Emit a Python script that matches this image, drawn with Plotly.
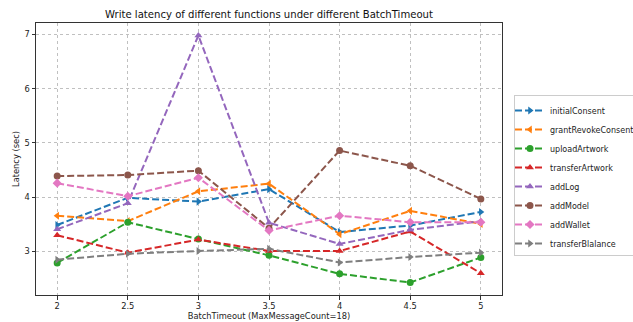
import plotly.graph_objects as go

x_vals = [2, 2.5, 3, 3.5, 4, 4.5, 5]

initialConsent = [3.49, 3.99, 3.92, 4.15, 3.36, 3.48, 3.73]
grantRevokeConsent = [3.66, 3.56, 4.11, 4.25, 3.32, 3.75, 3.51]
uploadArtwork = [2.79, 3.54, 3.23, 2.93, 2.59, 2.43, 2.89]
transferArtwork = [3.30, 2.98, 3.22, 3.01, 3.01, 3.37, 2.60]
addLog = [3.41, 3.89, 6.98, 3.53, 3.14, 3.40, 3.56]
addModel = [4.39, 4.41, 4.49, 3.43, 4.86, 4.58, 3.97]
addWallet = [4.26, 4.02, 4.36, 3.39, 3.66, 3.54, 3.54]
transferBlalance = [2.85, 2.96, 3.01, 3.05, 2.80, 2.90, 2.98]

series_names = ["initialConsent", "grantRevokeConsent", "uploadArtwork", "transferArtwork",
                "addLog", "addModel", "addWallet", "transferBlalance"]
series_values = [initialConsent, grantRevokeConsent, uploadArtwork, transferArtwork,
                 addLog, addModel, addWallet, transferBlalance]
colors = ["#1f77b4", "#ff7f0e", "#2ca02c", "#d62728", "#9467bd", "#8c564b", "#e377c2", "#7f7f7f"]
symbols = ["triangle-right", "triangle-left", "circle", "triangle-up", "triangle-up",
           "circle", "diamond", "triangle-right"]

fig = go.Figure()
for name, vals, c, s in zip(series_names, series_values, colors, symbols):
    fig.add_trace(go.Scatter(
        x=x_vals, y=vals, name=name, mode="lines+markers",
        line=dict(color=c, width=2, dash="7px,3px"),
        marker=dict(color=c, symbol=s, size=7),
    ))

font_family = "DejaVu Sans"
fig.update_layout(
    width=633, height=322,
    margin=dict(l=36, r=131, t=23, b=27, autoexpand=False),
    paper_bgcolor="white", plot_bgcolor="white",
    font=dict(family=font_family, size=8.3, color="#222"),
    title=dict(text="Write latency of different functions under different BatchTimeout",
               x=0.5, xref="paper", y=1 - 14 / 322, yref="container", yanchor="middle",
               xanchor="center", font=dict(size=10.1, color="#111")),
    legend=dict(x=514 / 633, xref="container", xanchor="left",
                y=1 - 175.5 / 322, yref="container", yanchor="middle",
                bordercolor="#cccccc", borderwidth=1, bgcolor="white",
                itemwidth=30, indentation=-5,
                font=dict(size=8, color="#222"), tracegroupgap=0),
    showlegend=True,
)
fig.update_xaxes(
    range=[1.85, 5.15], tickvals=x_vals, ticktext=["2", "2.5", "3", "3.5", "4", "4.5", "5"],
    showgrid=True, gridcolor="#c0c0c0", griddash="dot", gridwidth=0.8,
    showline=True, linecolor="#333", linewidth=1, mirror=True,
    ticks="outside", ticklen=3.5, tickcolor="#333", zeroline=False,
    title=dict(text="BatchTimeout (MaxMessageCount=18)", standoff=2, font=dict(size=8.3)),
    tickfont=dict(size=8.3),
)
fig.update_yaxes(
    range=[2.2, 7.21], tickvals=[3, 4, 5, 6, 7],
    showgrid=True, gridcolor="#c0c0c0", griddash="dot", gridwidth=0.8,
    showline=True, linecolor="#333", linewidth=1, mirror=True,
    ticks="outside", ticklen=3.5, tickcolor="#333", zeroline=False,
    title=dict(text="Latency (sec)", standoff=3, font=dict(size=8.3)),
    tickfont=dict(size=8.3),
)

fig.write_html("out.html")
